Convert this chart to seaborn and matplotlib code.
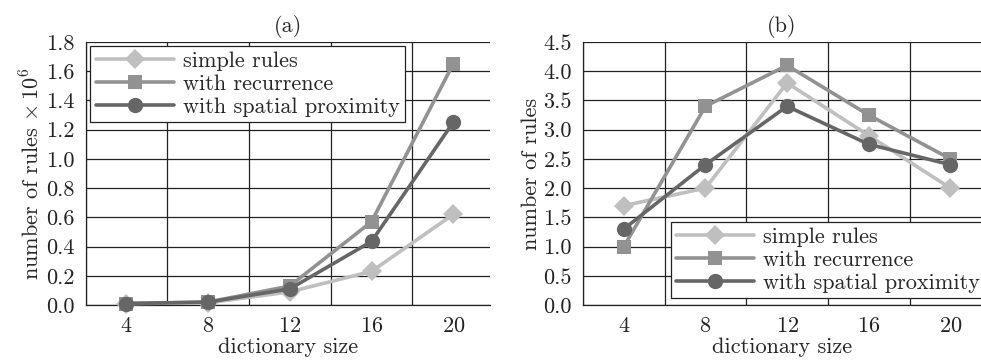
import numpy as np
import pandas as pd
import seaborn as sns
import matplotlib.pyplot as plt
from matplotlib.ticker import FormatStrFormatter, MultipleLocator

# data
dict_size = [4, 8, 12, 16, 20]
series_names = ["simple rules", "with recurrence", "with spatial proximity"]

# (a) number of rules x 10^6
a_simple = [0.01, 0.015, 0.09, 0.23, 0.62]
a_recurrence = [0.01, 0.02, 0.13, 0.57, 1.65]
a_spatial = [0.01, 0.02, 0.11, 0.435, 1.25]

# (b) number of rules
b_simple = [1.7, 2.0, 3.8, 2.9, 2.0]
b_recurrence = [1.0, 3.4, 4.1, 3.25, 2.5]
b_spatial = [1.3, 2.4, 3.4, 2.75, 2.4]

FS = 16

sns.set_style("white")
plt.rcParams["font.family"] = ["cmr10", "DejaVu Serif"]
plt.rcParams["mathtext.fontset"] = "cm"
plt.rcParams["axes.formatter.use_mathtext"] = True
plt.rcParams["font.size"] = FS

palette = {"simple rules": "#bfbfbf",
           "with recurrence": "#929292",
           "with spatial proximity": "#666666"}
markers = {"simple rules": "D",
           "with recurrence": "s",
           "with spatial proximity": "o"}
msize = {"simple rules": 10, "with recurrence": 10, "with spatial proximity": 11}


def long_table(values):
    rows = []
    for name, vals in zip(series_names, values):
        for x, y in zip(dict_size, vals):
            rows.append({"dictionary size": x, "value": y, "series": name})
    return pd.DataFrame(rows)


fig = plt.figure(figsize=(9.81, 3.61), dpi=100)
ax_a = fig.add_axes([85.5 / 981, 1 - 305 / 361, (490 - 85.5) / 981, 263 / 361])
ax_b = fig.add_axes([583 / 981, 1 - 305 / 361, (981 - 583) / 981, 263 / 361])

panels = [
    (ax_a, long_table([a_simple, a_recurrence, a_spatial]), "(a)",
     r"number of rules $\times\,10^6$", 1.8, 0.2, 21.8),
    (ax_b, long_table([b_simple, b_recurrence, b_spatial]), "(b)",
     "number of rules", 4.5, 0.5, 21.5),
]

for ax, df, title, ylabel, ymax, ystep, xmax in panels:
    for name in series_names:
        sub = df[df["series"] == name]
        sns.lineplot(data=sub, x="dictionary size", y="value", ax=ax,
                     color=palette[name], marker=markers[name],
                     markersize=msize[name], markeredgewidth=0,
                     linewidth=2.6, label=name, zorder=3, clip_on=False)
    ax.set_xlim(2, xmax)
    ax.set_ylim(0, ymax)
    ax.set_xticks(dict_size)
    ax.xaxis.set_minor_locator(MultipleLocator(4, offset=2))
    ax.yaxis.set_major_locator(MultipleLocator(ystep))
    ax.yaxis.set_major_formatter(FormatStrFormatter("%.1f"))
    ax.tick_params(axis="x", which="major", length=0, pad=8, labelsize=FS)
    ax.tick_params(axis="x", which="minor", length=6, width=0.9,
                   color="#222222", direction="out")
    ax.tick_params(axis="y", which="major", length=5, width=0.9,
                   color="#222222", direction="out", pad=3, labelsize=FS)
    ax.grid(True, axis="x", which="minor", color="#222222", linewidth=0.9)
    ax.grid(True, axis="y", which="major", color="#222222", linewidth=0.9)
    ax.grid(False, axis="x", which="major")
    for side in ["top", "right"]:
        ax.spines[side].set_visible(False)
    for side in ["left", "bottom"]:
        ax.spines[side].set_color("#222222")
        ax.spines[side].set_linewidth(0.9)
    ax.set_title(title, fontsize=FS, pad=7)
    ax.set_xlabel("dictionary size", labelpad=1, fontsize=FS)
    ax.set_ylabel(ylabel, labelpad=2, fontsize=FS)
    for lab in ax.get_xticklabels() + ax.get_yticklabels():
        lab.set_color("#222222")

leg_kw = dict(frameon=True, fancybox=False, edgecolor="#222222",
              framealpha=1, handlelength=3.5, handletextpad=0.4,
              labelspacing=0.15, borderpad=0.25, fontsize=FS,
              borderaxespad=0)
leg_a = ax_a.legend(loc="upper left", bbox_to_anchor=(0.012, 0.985), **leg_kw)
leg_b = ax_b.legend(loc="lower left", bbox_to_anchor=(0.22, 0.025), **leg_kw)
for leg in (leg_a, leg_b):
    leg.get_frame().set_linewidth(0.9)
    leg.set_zorder(5)

fig.savefig("out.png", dpi=100)
